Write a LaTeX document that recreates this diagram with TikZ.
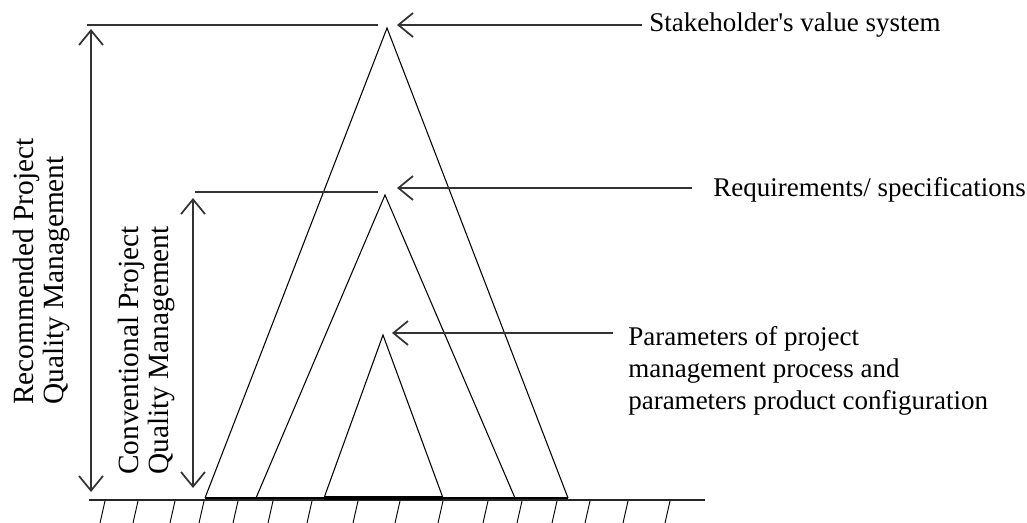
\documentclass[tikz,border=0pt]{standalone}
\usepackage{fontspec}
\setmainfont{Liberation Serif}
\usetikzlibrary{arrows.meta}

\begin{document}
\begin{tikzpicture}[x=0.75pt, y=-0.75pt]
    % --- Styles ---
    \tikzstyle{tri}=[line width=0.8pt, color=black]
    \tikzstyle{base}=[color=black]
    \tikzstyle{limit}=[line width=1.3pt, color=black!80]
    \tikzstyle{span}=[limit, {Straight Barb[length=11pt, width=18pt]}-{Straight Barb[length=11pt, width=18pt]}]
    \tikzstyle{pointer}=[limit, -{Straight Barb[length=11pt, width=18pt]}]
    \tikzstyle{ground}=[line width=1.1pt, color=black!85]
    \tikzstyle{label_text}=[font=\fontsize{20.25}{24}\selectfont, inner sep=0pt]
    \tikzstyle{side_text}=[font=\fontsize{22}{22.5}\selectfont, inner sep=0pt, rotate=90, align=left, anchor=west]

    \useasboundingbox (0,0) rectangle (1027,523);

    % --- 1. Ground with hatching ---
    \coordinate (gL) at (89,500);
    \coordinate (gR) at (705,500);
    \draw[ground] (gL) -- (gR);
    \foreach \x in {105,138,175,204,238,273,312,358,400,443,488,522,557,590,628,670}
        \draw[line width=0.7pt] (\x,501) -- ++(-5,22);

    % --- 2. Nested triangles ---
    \coordinate (outerTop) at (387,28);
    \coordinate (outerL) at (205,498);
    \coordinate (outerR) at (568,498);
    \coordinate (midTop) at (385,195);
    \coordinate (midL) at (256,498);
    \coordinate (midR) at (515,498);
    \coordinate (innerTop) at (383,335);
    \coordinate (innerL) at (324,498);
    \coordinate (innerR) at (443,498);

    \draw[base, line width=1.8pt] (outerL) -- (outerR);
    \draw[base, line width=2.2pt] (midL) -- (midR);
    \draw[base, line width=2.6pt] (innerL) -- (innerR);
    \draw[tri] (outerL) -- (outerTop) -- (outerR);
    \draw[tri] (midL) -- (midTop) -- (midR);
    \draw[tri] (innerL) -- (innerTop) -- (innerR);

    % --- 3. Extent of the two management scopes ---
    \coordinate (recLimitL) at (87,25);
    \coordinate (recLimitR) at (378,25);
    \coordinate (convLimitL) at (195,192);
    \coordinate (convLimitR) at (378,192);
    \draw[limit] (recLimitL) -- (recLimitR);
    \draw[limit] (convLimitL) -- (convLimitR);

    \coordinate (recUp) at (91,29);
    \coordinate (recDown) at (91,492);
    \coordinate (convUp) at (193,198);
    \coordinate (convDown) at (193,488);
    \draw[span] (recUp) -- (recDown);
    \draw[span] (convUp) -- (convDown);

    \node[side_text] (rec) at (41,405) {Recommended Project\\Quality Management};
    \node[side_text] (conv) at (146,475) {Conventional Project\\Quality Management};

    % --- 4. Labels on the right ---
    \node[label_text, anchor=base west] (stake) at (649,32) {Stakeholder\textquotesingle s value system};
    \node[label_text, anchor=base west] (req) at (713,197) {Requirements/ specifications};
    \node[label_text, anchor=north west, align=left] (params) at (628,326)
        {Parameters of project\\management process and\\parameters product configuration};

    \coordinate (stakeTip) at (397,25);
    \coordinate (reqTip) at (397,188);
    \coordinate (paramsTip) at (392,333);
    \draw[pointer] ([xshift=-5.25pt]stake.west |- stakeTip) -- (stakeTip);
    \draw[pointer] ([xshift=-15.75pt]req.west |- reqTip) -- (reqTip);
    \draw[pointer] ([xshift=-11.25pt]params.north west |- paramsTip) -- (paramsTip);

\end{tikzpicture}
\end{document}
